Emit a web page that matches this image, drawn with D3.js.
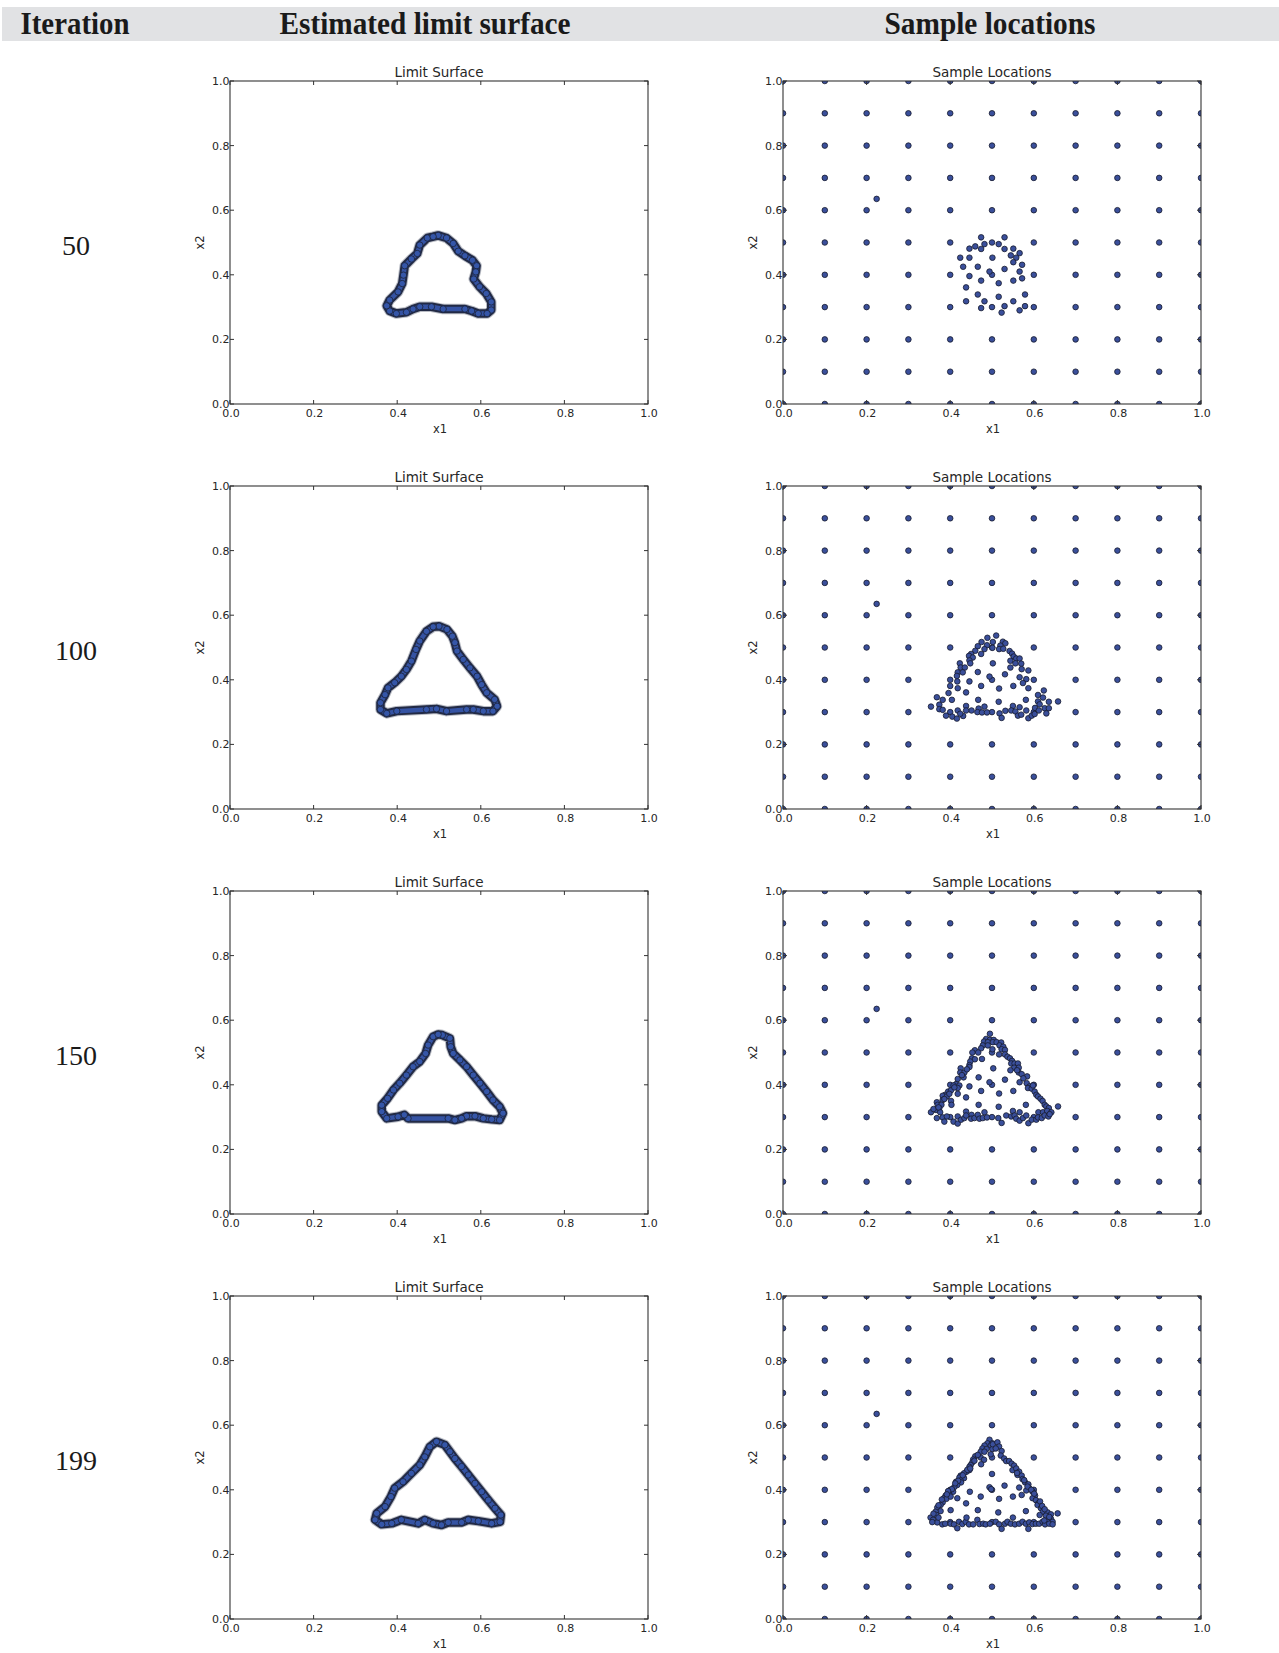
<!DOCTYPE html>
<html><head><meta charset="utf-8">
<script src="https://cdn.jsdelivr.net/npm/d3@7"></script>
<style>body{margin:0;background:#fff}</style>
</head><body>
<svg id="c" width="1279" height="1653"></svg>
<script>
// ---------- data ----------
const iterations = [50, 100, 150, 199];
const headers = ["Iteration", "Estimated limit surface", "Sample locations"];
const axisTicks = [0, 0.2, 0.4, 0.6, 0.8, 1.0];
const tickLabels = ["0.0", "0.2", "0.4", "0.6", "0.8", "1.0"];
const gridLevels = [0, 0.1, 0.2, 0.3, 0.4, 0.5, 0.6, 0.7, 0.8, 0.9, 1.0];
const extraSample = [[0.224, 0.635]];

// estimated limit surface contours (x1, x2)
const surface50 = [[0.498,0.522],[0.518,0.514],[0.534,0.497],[0.546,0.473],[0.562,0.459],[0.580,0.445],[0.590,0.428],[0.588,0.409],[0.583,0.387],[0.597,0.363],[0.613,0.342],[0.625,0.316],[0.625,0.291],[0.615,0.280],[0.594,0.280],[0.578,0.288],[0.562,0.294],[0.510,0.294],[0.482,0.301],[0.454,0.301],[0.438,0.294],[0.422,0.284],[0.398,0.280],[0.382,0.288],[0.375,0.304],[0.382,0.322],[0.402,0.347],[0.412,0.373],[0.415,0.399],[0.418,0.428],[0.434,0.449],[0.448,0.466],[0.454,0.492],[0.472,0.514],[0.486,0.518]];
const surface100 = [[0.500,0.566],[0.519,0.556],[0.532,0.535],[0.538,0.515],[0.543,0.489],[0.558,0.463],[0.574,0.437],[0.591,0.411],[0.602,0.385],[0.614,0.360],[0.633,0.339],[0.639,0.318],[0.629,0.303],[0.606,0.303],[0.582,0.308],[0.566,0.308],[0.518,0.303],[0.494,0.310],[0.470,0.308],[0.399,0.303],[0.375,0.296],[0.360,0.308],[0.360,0.329],[0.371,0.354],[0.378,0.375],[0.394,0.391],[0.410,0.411],[0.422,0.432],[0.434,0.458],[0.445,0.494],[0.454,0.520],[0.470,0.550],[0.486,0.564]];
const surface150 = [[0.508,0.554],[0.526,0.544],[0.528,0.518],[0.534,0.497],[0.550,0.477],[0.566,0.456],[0.582,0.430],[0.598,0.405],[0.614,0.379],[0.629,0.353],[0.645,0.332],[0.653,0.312],[0.645,0.291],[0.626,0.293],[0.606,0.296],[0.586,0.303],[0.566,0.303],[0.554,0.296],[0.538,0.291],[0.522,0.296],[0.426,0.296],[0.417,0.307],[0.402,0.301],[0.375,0.296],[0.363,0.317],[0.363,0.337],[0.377,0.358],[0.391,0.384],[0.406,0.405],[0.422,0.430],[0.438,0.456],[0.454,0.472],[0.468,0.497],[0.474,0.523],[0.486,0.549],[0.498,0.556]];
const surface199 = [[0.494,0.549],[0.514,0.539],[0.526,0.518],[0.538,0.497],[0.554,0.472],[0.570,0.446],[0.586,0.420],[0.602,0.394],[0.618,0.368],[0.634,0.343],[0.648,0.322],[0.646,0.301],[0.626,0.296],[0.594,0.303],[0.570,0.307],[0.554,0.299],[0.522,0.299],[0.506,0.291],[0.486,0.296],[0.466,0.307],[0.450,0.296],[0.410,0.307],[0.387,0.296],[0.363,0.293],[0.347,0.307],[0.351,0.327],[0.371,0.348],[0.385,0.379],[0.394,0.405],[0.414,0.425],[0.434,0.451],[0.454,0.477],[0.466,0.502],[0.478,0.533]];

// adaptive sample locations (besides the initial 11x11 grid)
const adaptive50 = [[0.474,0.516],[0.530,0.516],[0.460,0.488],[0.446,0.481],[0.474,0.480],[0.482,0.495],[0.516,0.495],[0.530,0.480],[0.551,0.481],[0.566,0.467],[0.545,0.460],[0.558,0.453],[0.551,0.439],[0.572,0.431],[0.424,0.453],[0.446,0.453],[0.431,0.425],[0.466,0.425],[0.501,0.453],[0.530,0.418],[0.494,0.410],[0.566,0.410],[0.446,0.396],[0.474,0.382],[0.516,0.374],[0.551,0.382],[0.572,0.389],[0.438,0.361],[0.466,0.339],[0.516,0.332],[0.579,0.339],[0.438,0.318],[0.482,0.318],[0.530,0.303],[0.551,0.318],[0.579,0.303],[0.474,0.297],[0.566,0.290],[0.523,0.283]];
const adaptive100 = [[0.510,0.537],[0.489,0.530],[0.475,0.517],[0.502,0.517],[0.526,0.518],[0.532,0.513],[0.466,0.504],[0.488,0.507],[0.501,0.499],[0.520,0.506],[0.460,0.490],[0.482,0.495],[0.517,0.495],[0.527,0.496],[0.542,0.489],[0.450,0.480],[0.474,0.480],[0.445,0.474],[0.548,0.481],[0.552,0.472],[0.454,0.469],[0.446,0.460],[0.544,0.459],[0.558,0.466],[0.566,0.466],[0.423,0.451],[0.448,0.451],[0.502,0.451],[0.556,0.451],[0.570,0.450],[0.425,0.438],[0.435,0.438],[0.544,0.438],[0.571,0.433],[0.587,0.429],[0.418,0.423],[0.430,0.423],[0.466,0.424],[0.531,0.417],[0.416,0.412],[0.494,0.410],[0.566,0.408],[0.582,0.402],[0.417,0.395],[0.446,0.395],[0.400,0.381],[0.418,0.374],[0.474,0.381],[0.517,0.373],[0.551,0.381],[0.574,0.390],[0.587,0.374],[0.396,0.359],[0.438,0.361],[0.624,0.367],[0.610,0.353],[0.368,0.346],[0.382,0.338],[0.404,0.338],[0.467,0.338],[0.516,0.332],[0.581,0.338],[0.622,0.345],[0.636,0.332],[0.658,0.333],[0.610,0.333],[0.354,0.317],[0.374,0.323],[0.374,0.309],[0.382,0.307],[0.438,0.319],[0.451,0.305],[0.468,0.311],[0.482,0.317],[0.550,0.319],[0.566,0.315],[0.603,0.313],[0.614,0.324],[0.626,0.312],[0.636,0.312],[0.390,0.289],[0.405,0.286],[0.416,0.280],[0.418,0.305],[0.431,0.288],[0.424,0.295],[0.438,0.305],[0.465,0.300],[0.476,0.299],[0.488,0.299],[0.518,0.296],[0.523,0.282],[0.532,0.304],[0.546,0.305],[0.556,0.302],[0.562,0.289],[0.570,0.292],[0.582,0.305],[0.587,0.281],[0.595,0.289],[0.602,0.294],[0.612,0.305],[0.630,0.296]];
const adaptive150 = [[0.495,0.558],[0.486,0.542],[0.495,0.539],[0.504,0.539],[0.481,0.534],[0.490,0.532],[0.502,0.532],[0.511,0.532],[0.522,0.531],[0.478,0.522],[0.490,0.522],[0.518,0.522],[0.527,0.518],[0.474,0.513],[0.501,0.510],[0.523,0.510],[0.531,0.508],[0.459,0.507],[0.467,0.500],[0.453,0.500],[0.517,0.494],[0.531,0.494],[0.537,0.487],[0.452,0.482],[0.459,0.479],[0.476,0.480],[0.543,0.482],[0.548,0.474],[0.448,0.472],[0.446,0.461],[0.446,0.455],[0.546,0.466],[0.554,0.466],[0.562,0.466],[0.503,0.451],[0.553,0.453],[0.564,0.453],[0.425,0.451],[0.424,0.438],[0.434,0.438],[0.564,0.438],[0.544,0.445],[0.571,0.433],[0.584,0.426],[0.432,0.423],[0.418,0.418],[0.468,0.423],[0.531,0.416],[0.494,0.408],[0.414,0.402],[0.408,0.398],[0.566,0.408],[0.583,0.405],[0.590,0.395],[0.422,0.398],[0.418,0.390],[0.446,0.395],[0.586,0.390],[0.595,0.388],[0.395,0.379],[0.402,0.383],[0.418,0.372],[0.474,0.381],[0.517,0.373],[0.551,0.381],[0.602,0.379],[0.606,0.369],[0.388,0.369],[0.382,0.366],[0.392,0.364],[0.438,0.361],[0.610,0.364],[0.616,0.357],[0.621,0.350],[0.382,0.353],[0.402,0.350],[0.368,0.346],[0.370,0.338],[0.379,0.338],[0.403,0.338],[0.468,0.338],[0.516,0.332],[0.581,0.338],[0.626,0.338],[0.630,0.333],[0.636,0.328],[0.658,0.333],[0.366,0.322],[0.374,0.328],[0.376,0.315],[0.354,0.315],[0.438,0.317],[0.451,0.307],[0.482,0.315],[0.550,0.319],[0.566,0.315],[0.611,0.315],[0.622,0.315],[0.632,0.319],[0.642,0.315],[0.368,0.297],[0.382,0.299],[0.386,0.286],[0.392,0.302],[0.408,0.286],[0.418,0.280],[0.418,0.302],[0.426,0.292],[0.434,0.297],[0.438,0.305],[0.450,0.295],[0.458,0.297],[0.466,0.307],[0.470,0.295],[0.478,0.297],[0.488,0.299],[0.515,0.297],[0.523,0.282],[0.534,0.305],[0.546,0.302],[0.554,0.305],[0.558,0.295],[0.566,0.289],[0.574,0.297],[0.582,0.305],[0.587,0.281],[0.595,0.292],[0.606,0.292],[0.610,0.299],[0.619,0.297],[0.626,0.305],[0.635,0.302],[0.638,0.309],[0.360,0.325],[0.372,0.330],[0.386,0.356],[0.398,0.372],[0.410,0.392],[0.428,0.430],[0.440,0.448],[0.598,0.398],[0.575,0.420],[0.560,0.445]];
const adaptive199 = [[0.494,0.555],[0.489,0.544],[0.501,0.544],[0.482,0.537],[0.497,0.537],[0.477,0.528],[0.487,0.526],[0.501,0.526],[0.473,0.518],[0.482,0.518],[0.497,0.510],[0.460,0.504],[0.473,0.500],[0.455,0.494],[0.481,0.493],[0.453,0.485],[0.449,0.477],[0.446,0.471],[0.474,0.479],[0.446,0.461],[0.439,0.456],[0.433,0.451],[0.425,0.444],[0.422,0.438],[0.433,0.436],[0.425,0.429],[0.414,0.425],[0.426,0.423],[0.417,0.415],[0.410,0.409],[0.407,0.394],[0.397,0.389],[0.389,0.382],[0.385,0.374],[0.391,0.372],[0.401,0.379],[0.417,0.374],[0.382,0.361],[0.377,0.353],[0.369,0.345],[0.377,0.334],[0.365,0.332],[0.367,0.322],[0.353,0.314],[0.359,0.307],[0.369,0.299],[0.381,0.293],[0.388,0.295],[0.401,0.295],[0.409,0.293],[0.417,0.281],[0.421,0.301],[0.429,0.294],[0.437,0.301],[0.445,0.293],[0.455,0.293],[0.465,0.307],[0.470,0.294],[0.479,0.295],[0.485,0.293],[0.495,0.295],[0.447,0.394],[0.494,0.408],[0.498,0.402],[0.473,0.379],[0.438,0.358],[0.401,0.337],[0.466,0.337],[0.439,0.314],[0.500,0.449],[0.502,0.541],[0.513,0.547],[0.517,0.534],[0.509,0.528],[0.523,0.520],[0.521,0.506],[0.529,0.497],[0.534,0.489],[0.541,0.489],[0.547,0.481],[0.553,0.475],[0.549,0.461],[0.558,0.466],[0.565,0.456],[0.561,0.446],[0.571,0.444],[0.573,0.433],[0.579,0.423],[0.587,0.417],[0.589,0.405],[0.582,0.398],[0.597,0.394],[0.603,0.382],[0.597,0.374],[0.605,0.368],[0.611,0.358],[0.609,0.353],[0.617,0.343],[0.622,0.332],[0.633,0.330],[0.641,0.324],[0.629,0.320],[0.641,0.310],[0.633,0.301],[0.645,0.301],[0.657,0.327],[0.530,0.413],[0.517,0.372],[0.550,0.379],[0.565,0.407],[0.571,0.384],[0.581,0.334],[0.515,0.330],[0.550,0.314],[0.614,0.322],[0.509,0.301],[0.517,0.293],[0.523,0.279],[0.531,0.295],[0.537,0.301],[0.545,0.295],[0.555,0.293],[0.565,0.295],[0.573,0.301],[0.581,0.295],[0.589,0.299],[0.587,0.279],[0.597,0.294],[0.605,0.295],[0.613,0.295],[0.621,0.301],[0.627,0.293],[0.637,0.295],[0.645,0.293],[0.430,0.445],[0.441,0.462],[0.458,0.490],[0.466,0.508],[0.419,0.428],[0.404,0.402],[0.395,0.396],[0.380,0.370],[0.372,0.352],[0.360,0.326],[0.372,0.314],[0.357,0.300],[0.392,0.386],[0.412,0.420],[0.448,0.466],[0.585,0.410],[0.594,0.400],[0.601,0.388],[0.615,0.364],[0.620,0.350],[0.626,0.340],[0.637,0.316],[0.625,0.305],[0.560,0.452],[0.577,0.430]];

const surfaces = [surface50, surface100, surface150, surface199];
const adaptives = [adaptive50, adaptive100, adaptive150, adaptive199];

// ---------- layout ----------
const svg = d3.select("#c");
const leftX0 = 230, rightX0 = 783, plotW = 418, plotH = 323;
const rowTop0 = 81, rowStep = 405;
const tickFont = "'DejaVu Sans', sans-serif";
const textCol = "#262626";

// header band
svg.append("rect").attr("x", 2).attr("y", 7).attr("width", 1277).attr("height", 34).attr("fill", "#e1e2e4");
const headerX = [75, 425, 990];
const headerW = [109, 291, 211];
headers.forEach((h, i) => {
  svg.append("text").attr("x", headerX[i]).attr("y", 33.5)
    .attr("text-anchor", "middle")
    .attr("font-family", "'Liberation Serif', 'Times New Roman', serif")
    .attr("font-weight", "bold").attr("font-size", 31)
    .attr("textLength", headerW[i]).attr("lengthAdjust", "spacingAndGlyphs")
    .attr("fill", "#1a1a1a").text(h);
});

let clipId = 0;
function drawAxes(x0, top, title) {
  const x = d3.scaleLinear().domain([0, 1]).range([x0, x0 + plotW]);
  const y = d3.scaleLinear().domain([0, 1]).range([top + plotH, top]);
  const g = svg.append("g");
  const id = "clip" + (clipId++);
  svg.append("clipPath").attr("id", id).append("rect")
    .attr("x", x0).attr("y", top).attr("width", plotW).attr("height", plotH);
  const plot = g.append("g").attr("clip-path", `url(#${id})`);
  const frame = g.append("g");
  frame.append("rect").attr("x", x0).attr("y", top).attr("width", plotW).attr("height", plotH)
    .attr("fill", "none").attr("stroke", "#333").attr("stroke-width", 1.1);
  const tl = 4;
  axisTicks.forEach((t, i) => {
    const px = x(t), py = y(t);
    frame.append("line").attr("x1", px).attr("x2", px).attr("y1", top + plotH).attr("y2", top + plotH - tl).attr("stroke", "#333");
    frame.append("line").attr("x1", px).attr("x2", px).attr("y1", top).attr("y2", top + tl).attr("stroke", "#333");
    frame.append("line").attr("y1", py).attr("y2", py).attr("x1", x0).attr("x2", x0 + tl).attr("stroke", "#333");
    frame.append("line").attr("y1", py).attr("y2", py).attr("x1", x0 + plotW).attr("x2", x0 + plotW - tl).attr("stroke", "#333");
    frame.append("text").attr("x", px + 1).attr("y", top + plotH + 12.5).attr("text-anchor", "middle")
      .attr("font-family", tickFont).attr("font-size", 11).attr("fill", textCol).text(tickLabels[i]);
    frame.append("text").attr("x", x0 - 0.5).attr("y", py + 4).attr("text-anchor", "end")
      .attr("font-family", tickFont).attr("font-size", 11).attr("fill", textCol).text(tickLabels[i]);
  });
  frame.append("text").attr("x", x0 + plotW / 2 + 1).attr("y", top + plotH + 28.5).attr("text-anchor", "middle")
    .attr("font-family", tickFont).attr("font-size", 11.5).attr("fill", textCol).text("x1");
  frame.append("text").attr("transform", `translate(${x0 - 26},${top + plotH / 2}) rotate(-90)`)
    .attr("text-anchor", "middle").attr("font-family", tickFont).attr("font-size", 11.5).attr("fill", textCol).text("x2");
  frame.append("text").attr("x", x0 + plotW / 2).attr("y", top - 4.5).attr("text-anchor", "middle")
    .attr("font-family", tickFont).attr("font-size", 13.5).attr("fill", textCol).text(title);
  return {x, y, plot};
}

const gridSamples = [];
gridLevels.forEach(a => gridLevels.forEach(b => gridSamples.push([a, b])));

iterations.forEach((it, r) => {
  const top = rowTop0 + r * rowStep;
  svg.append("text").attr("x", 76).attr("y", top + 174).attr("text-anchor", "middle")
    .attr("font-family", "'Liberation Serif', 'Times New Roman', serif").attr("font-size", 28)
    .attr("fill", "#1a1a1a").text(it);

  // left: limit surface
  const L = drawAxes(leftX0, top, "Limit Surface");
  const line = d3.line().x(d => L.x(d[0])).y(d => L.y(d[1])).curve(d3.curveLinearClosed);
  L.plot.append("path").attr("d", line(surfaces[r])).attr("fill", "none")
    .attr("stroke", "#8a8f9c").attr("stroke-width", 10.5).attr("stroke-linejoin", "round").attr("opacity", 0.6);
  L.plot.append("path").attr("d", line(surfaces[r])).attr("fill", "none")
    .attr("stroke", "#222a45").attr("stroke-width", 8.5).attr("stroke-linejoin", "round");
  L.plot.append("path").attr("d", line(surfaces[r])).attr("fill", "none")
    .attr("stroke", "#3553a3").attr("stroke-width", 4.5).attr("stroke-linejoin", "round");
  L.plot.selectAll("circle.s").data(surfaces[r]).join("circle")
    .attr("cx", d => L.x(d[0])).attr("cy", d => L.y(d[1])).attr("r", 3.2)
    .attr("fill", "#3556a8").attr("stroke", "#1b2238").attr("stroke-width", 0.8);

  // right: sample locations
  const R = drawAxes(rightX0, top, "Sample Locations");
  const pts = gridSamples.concat(extraSample, adaptives[r]);
  R.plot.selectAll("circle").data(pts).join("circle")
    .attr("cx", d => R.x(d[0])).attr("cy", d => R.y(d[1])).attr("r", 2.8)
    .attr("fill", "#3a4f9b").attr("stroke", "#161a2c").attr("stroke-width", 0.8);
});
</script>
</body></html>
